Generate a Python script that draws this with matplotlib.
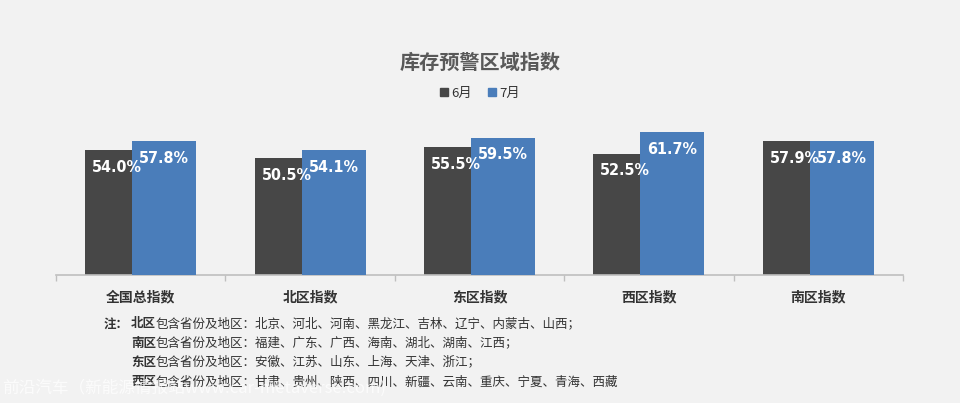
import matplotlib
matplotlib.use("Agg")
import matplotlib.pyplot as plt
import numpy as np
from matplotlib.patches import Patch
from matplotlib import font_manager

plt.rcParams["font.family"] = ["Noto Sans CJK SC", "DejaVu Sans"]

CATEGORIES = ["全国总指数", "北区指数", "东区指数", "西区指数", "南区指数"]
JUNE = [54.0, 50.5, 55.5, 52.5, 57.9]
JULY = [57.8, 54.1, 59.5, 61.7, 57.8]
SERIES_NAMES = ["6月", "7月"]

NOTE_REGIONS = ["北区", "南区", "东区", "西区"]
NOTE_TEXTS = [
    "包含省份及地区：北京、河北、河南、黑龙江、吉林、辽宁、内蒙古、山西；",
    "包含省份及地区：福建、广东、广西、海南、湖北、湖南、江西；",
    "包含省份及地区：安徽、江苏、山东、上海、天津、浙江；",
    "包含省份及地区：甘肃、贵州、陕西、四川、新疆、云南、重庆、宁夏、青海、西藏",
]

BG = "#f2f2f2"
DARK = "#474747"
BLUE = "#4a7dba"
W, H = 960, 403

names = sorted({f.name for f in font_manager.fontManager.ttflist})
print(names)
cond = [f.fname for f in font_manager.fontManager.ttflist if "Condensed" in f.fname or "Narrow" in f.fname]
print(cond)

fig = plt.figure(figsize=(W / 100, H / 100), dpi=100, facecolor=BG)
ax = fig.add_axes([56 / W, 128 / H, 847 / W, 161.7 / H])
ax.set_facecolor("none")

x = np.arange(len(CATEGORIES))
bw = 0.378
off = 0.139
b1 = ax.bar(x - off, JUNE, bw, color=DARK, zorder=2)
b2 = ax.bar(x + off, JULY, bw, color=BLUE, zorder=3)

for bars, vals in ((b1, JUNE), (b2, JULY)):
    for rect, v in zip(bars, vals):
        ax.annotate(f"{v:.1f}%", xy=(rect.get_x() + rect.get_width() / 2, v),
                    xytext=(0, -7), textcoords="offset points",
                    ha="center", va="top", color="white", fontsize=11.5,
                    fontweight="bold", family="DejaVu Sans", fontstretch="condensed",
                    zorder=5)

ax.set_xlim(-0.5, len(CATEGORIES) - 0.5)
ax.set_ylim(0, 70)
ax.set_yticks([])
for s in ("left", "right", "top"):
    ax.spines[s].set_visible(False)
ax.spines["bottom"].set_color("#bfbfbf")
ax.spines["bottom"].set_linewidth(1.2)
ax.set_xticks(x)
ax.set_xticklabels(CATEGORIES, fontsize=10, fontweight="bold", color="#333333")
ax.tick_params(axis="x", which="major", length=0, pad=11)
ax.set_xticks(np.arange(-0.5, len(CATEGORIES)), minor=True)
ax.tick_params(axis="x", which="minor", length=4, color="#bfbfbf", width=1)

fig.text(0.5, 1 - 62 / H, "库存预警区域指数", ha="center", va="center",
         fontsize=14.5, fontweight="bold", color="#595959")

handles = [Patch(color=DARK), Patch(color=BLUE)]
fig.legend(handles, SERIES_NAMES, loc="center", bbox_to_anchor=(0.5, 1 - 93 / H),
           ncol=2, frameon=False, fontsize=9.5, handlelength=0.6, handleheight=0.6,
           handletextpad=0.3, columnspacing=1.2, labelcolor="#333333")

ys = [324, 343, 362, 382]
fig.text(104 / W, 1 - ys[0] / H, "注：", ha="left", va="center", fontsize=9,
         fontweight="bold", color="#333333")
for yy, reg, txt in zip(ys, NOTE_REGIONS, NOTE_TEXTS):
    t = fig.text(131 / W, 1 - yy / H, reg, ha="left", va="center", fontsize=9,
                 fontweight="bold", color="#333333")
    ax.annotate(txt, xy=(1, 0.5), xycoords=t, ha="left", va="center",
                fontsize=9, color="#333333", annotation_clip=False)

fig.text(2 / W, 1 - 388 / H, "前沿汽车（新能源情报站www.car-metaverse.com)",
         ha="left", va="center", fontsize=12, color="white", alpha=0.75)

fig.savefig("out.png", dpi=100, facecolor=BG)
